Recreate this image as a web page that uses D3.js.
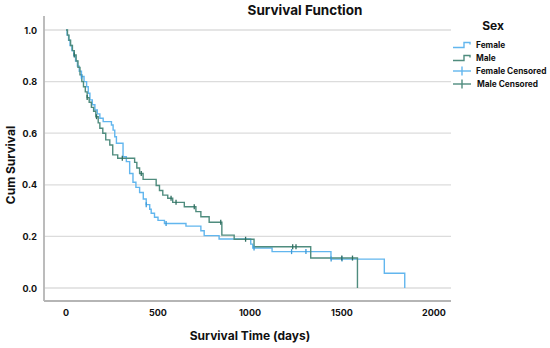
<!DOCTYPE html>
<html>
<head>
<meta charset="utf-8">
<script src="https://cdn.jsdelivr.net/npm/d3@7"></script>
<style>
  body { margin: 0; background: #fff; }
  text { font-family: Inter, "Liberation Sans", sans-serif; font-weight: 700; fill: #111; }
</style>
</head>
<body>
<script>
// Kaplan-Meier steps: [days, cum survival after the step]
const femaleSteps = [
  [0, 1.0], [6, 0.98], [14, 0.96], [22, 0.94], [32, 0.92], [42, 0.90], [52, 0.88],
  [62, 0.86], [72, 0.84], [84, 0.82], [98, 0.80], [112, 0.78], [121, 0.755], [130, 0.729],
  [143, 0.71], [157, 0.69], [170, 0.675], [184, 0.658], [202, 0.645], [247, 0.632],
  [256, 0.612], [265, 0.586], [274, 0.561], [310, 0.509], [328, 0.49], [346, 0.444],
  [364, 0.41], [380, 0.39], [400, 0.37], [420, 0.345], [436, 0.323], [455, 0.305],
  [463, 0.29], [481, 0.274], [500, 0.262], [535, 0.25], [652, 0.24], [733, 0.222],
  [751, 0.203], [832, 0.19], [1004, 0.17], [1015, 0.155], [1120, 0.141], [1440, 0.112],
  [1730, 0.057], [1841, 0.0]
];
const maleSteps = [
  [0, 1.0], [8, 0.98], [16, 0.96], [25, 0.94], [35, 0.92], [45, 0.903], [55, 0.88],
  [65, 0.855], [76, 0.826], [86, 0.80], [95, 0.78], [105, 0.76], [115, 0.738], [126, 0.72],
  [138, 0.70], [150, 0.685], [162, 0.664], [175, 0.64], [184, 0.619], [200, 0.60],
  [216, 0.574], [238, 0.554], [254, 0.516], [281, 0.503], [373, 0.487], [385, 0.465],
  [400, 0.444], [419, 0.421], [490, 0.397], [508, 0.378], [526, 0.36], [553, 0.348],
  [580, 0.332], [643, 0.315], [706, 0.296], [733, 0.276], [778, 0.255], [847, 0.205],
  [914, 0.189], [1022, 0.16], [1330, 0.116], [1584, 0.0]
];
const femaleCensored = [
  [84, 0.82], [436, 0.323], [544, 0.25], [1022, 0.155], [1226, 0.141], [1304, 0.141],
  [1441, 0.112], [1500, 0.112]
];
const maleCensored = [
  [45, 0.903], [115, 0.738], [166, 0.664], [306, 0.503], [409, 0.444], [571, 0.348],
  [598, 0.332], [697, 0.315], [841, 0.255], [976, 0.189], [1232, 0.16], [1250, 0.16],
  [1499, 0.116], [1557, 0.116]
];
const xTicks = [0, 500, 1000, 1500, 2000];
const yTicks = [0, 0.2, 0.4, 0.6, 0.8, 1.0];
const legendLabels = ["Female", "Male", "Female Censored", "Male Censored"];

const femaleColor = "#62b6ee";
const maleColor = "#4f8c7e";
const maleMark = "#2f6e60";
const femaleMark = "#3d9ad8";

const W = 550, H = 348;
const svg = d3.select("body").append("svg").attr("width", W).attr("height", H);

const x = d3.scaleLinear().domain([0, 2000]).range([66, 434]);
const y = d3.scaleLinear().domain([0, 1]).range([288, 30]);
const left = 44, right = 451, bottom = 301;

// grid
svg.append("g").selectAll("line").data(yTicks).join("line")
  .attr("x1", left).attr("x2", right)
  .attr("y1", d => y(d)).attr("y2", d => y(d))
  .attr("stroke", "#dcdcdc").attr("stroke-width", 1.3);

// axis lines
svg.append("line").attr("x1", left).attr("x2", left).attr("y1", 16).attr("y2", bottom)
  .attr("stroke", "#b5b5b5").attr("stroke-width", 1.8);
svg.append("line").attr("x1", left).attr("x2", right).attr("y1", bottom).attr("y2", bottom)
  .attr("stroke", "#b5b5b5").attr("stroke-width", 1.8);

// tick labels
svg.append("g").selectAll("text").data(yTicks).join("text")
  .attr("x", 37).attr("y", d => y(d) + 3.5).attr("text-anchor", "end")
  .style("font-size", "9px").text(d => d.toFixed(1));
svg.append("g").selectAll("text").data(xTicks).join("text")
  .attr("x", d => x(d)).attr("y", 315.5).attr("text-anchor", "middle")
  .style("font-size", "9px").text(d => d);

// titles
svg.append("text").attr("x", 305).attr("y", 15).attr("text-anchor", "middle")
  .style("font-size", "13.5px").text("Survival Function");
svg.append("text").attr("x", 250).attr("y", 340).attr("text-anchor", "middle")
  .style("font-size", "12px").text("Survival Time (days)");
svg.append("text").attr("transform", "translate(15,165) rotate(-90)").attr("text-anchor", "middle")
  .style("font-size", "12px").text("Cum Survival");

// curves
const line = d3.line().x(d => x(d[0])).y(d => y(d[1])).curve(d3.curveStepAfter);
svg.append("path").datum(femaleSteps).attr("d", line)
  .attr("fill", "none").attr("stroke", femaleColor).attr("stroke-width", 1.4);
svg.append("path").datum(maleSteps).attr("d", line)
  .attr("fill", "none").attr("stroke", maleColor).attr("stroke-width", 1.4);

// censored marks
function marks(data, color) {
  const g = svg.append("g");
  g.selectAll("line").data(data).join("line")
    .attr("x1", d => x(d[0])).attr("x2", d => x(d[0]))
    .attr("y1", d => y(d[1]) - 2.5).attr("y2", d => y(d[1]) + 2.5)
    .attr("stroke", color).attr("stroke-width", 1.3);
}
marks(femaleCensored, femaleMark);
marks(maleCensored, maleMark);

// legend
const lg = svg.append("g");
lg.append("text").attr("x", 493).attr("y", 30).attr("text-anchor", "middle")
  .style("font-size", "12px").text("Sex");
const colors = [femaleColor, maleColor, femaleColor, maleColor];
legendLabels.forEach((lab, i) => {
  const cy = 44.5 + i * 13;
  if (i < 2) {
    lg.append("path")
      .attr("d", `M453,${cy + 3}H464V${cy - 2}H470V${cy}`)
      .attr("fill", "none").attr("stroke", colors[i]).attr("stroke-width", 1.4);
  } else {
    lg.append("line").attr("x1", 453).attr("x2", 471).attr("y1", cy + 0.5).attr("y2", cy + 0.5)
      .attr("stroke", colors[i]).attr("stroke-width", 1.4);
    lg.append("line").attr("x1", 462).attr("x2", 462).attr("y1", cy - 4).attr("y2", cy + 5)
      .attr("stroke", colors[i]).attr("stroke-width", 1.4);
  }
  lg.append("text").attr("x", i === 3 ? 477 : 476).attr("y", cy + 3)
    .style("font-size", "8.3px").text(lab);
});
</script>
</body>
</html>
